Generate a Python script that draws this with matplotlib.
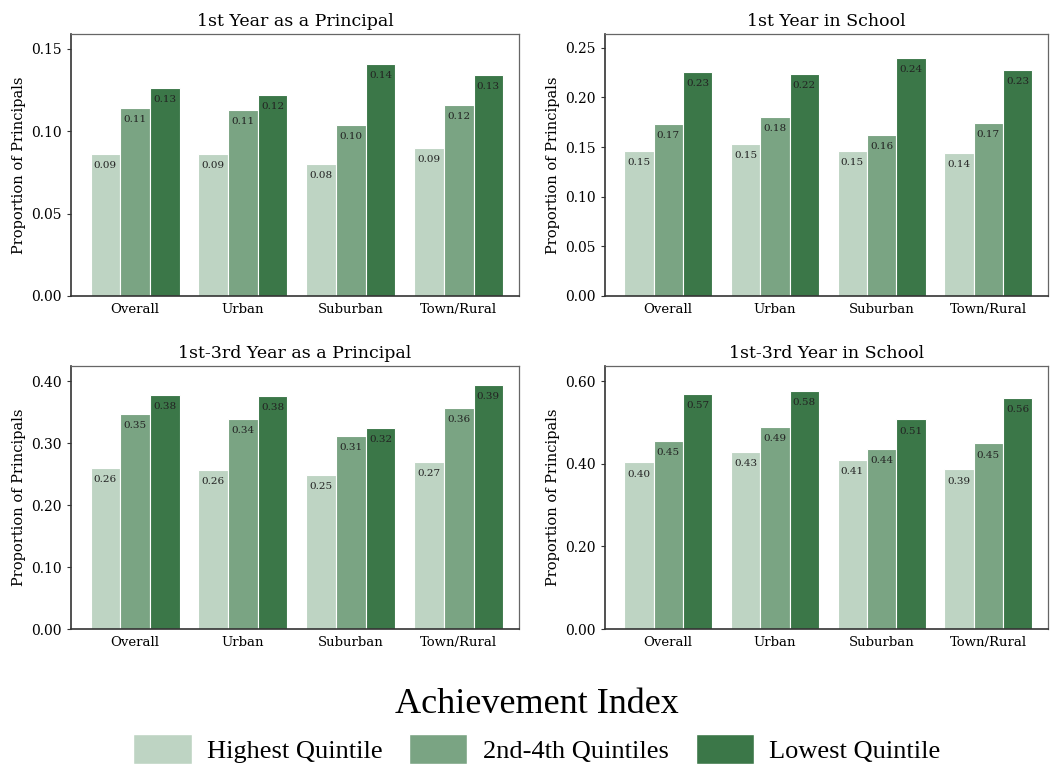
import numpy as np
import matplotlib.pyplot as plt
from matplotlib.patches import Patch
from matplotlib.ticker import FormatStrFormatter

# groups and series
groups = ['Overall', 'Urban', 'Suburban', 'Town/Rural']
quintiles = ['Highest Quintile', '2nd-4th Quintiles', 'Lowest Quintile']
colors = ['#bed4c3', '#7aa483', '#3b7748']

titles = ['1st Year as a Principal', '1st Year in School',
          '1st-3rd Year as a Principal', '1st-3rd Year in School']

# proportion of principals, one row per quintile
first_yr_principal = [[0.086, 0.086, 0.080, 0.090],
                      [0.114, 0.113, 0.104, 0.116],
                      [0.126, 0.122, 0.141, 0.134]]
first_yr_school = [[0.146, 0.153, 0.146, 0.144],
                   [0.173, 0.180, 0.162, 0.174],
                   [0.226, 0.224, 0.240, 0.228]]
three_yr_principal = [[0.260, 0.256, 0.248, 0.269],
                      [0.347, 0.339, 0.312, 0.356],
                      [0.378, 0.376, 0.324, 0.394]]
three_yr_school = [[0.403, 0.428, 0.408, 0.386],
                   [0.454, 0.488, 0.436, 0.449],
                   [0.569, 0.576, 0.507, 0.559]]

panels = [first_yr_principal, first_yr_school, three_yr_principal, three_yr_school]
ylims = [0.159, 0.264, 0.424, 0.636]
yticks = [[0, 0.05, 0.10, 0.15], [0, 0.05, 0.10, 0.15, 0.20, 0.25],
          [0, 0.10, 0.20, 0.30, 0.40], [0, 0.20, 0.40, 0.60]]

plt.rcParams['font.family'] = 'DejaVu Serif'

fig = plt.figure(figsize=(10.51, 7.64), dpi=100)

# axes boxes [left, bottom, width, height] in figure fraction
boxes = [[0.0676, 0.6126, 0.4263, 0.343],
         [0.5756, 0.6126, 0.4215, 0.343],
         [0.0676, 0.1767, 0.4263, 0.344],
         [0.5756, 0.1767, 0.4215, 0.344]]

x = np.arange(len(groups))
w = 0.275
for k in range(4):
    ax = fig.add_axes(boxes[k])
    vals = panels[k]
    top = ylims[k]
    for i in range(3):
        xs = x + (i - 1) * w
        ax.bar(xs, vals[i], width=w, color=colors[i], edgecolor='white', linewidth=0.8)
        for xi, v in zip(xs, vals[i]):
            ax.text(xi, v - top * 0.027, f'{v:.2f}', ha='center', va='top',
                    fontsize=7.5, color='#222222')
    ax.set_xlim(-0.593, 3.56)
    ax.set_ylim(0, top)
    ax.set_yticks(yticks[k])
    ax.yaxis.set_major_formatter(FormatStrFormatter('%.2f'))
    ax.set_xticks(x)
    ax.set_xticklabels(groups, fontsize=9.5)
    ax.tick_params(axis='x', length=0, pad=5)
    ax.tick_params(axis='y', labelsize=10, length=3, color='#333333')
    ax.set_ylabel('Proportion of Principals', fontsize=10.5)
    ax.set_title(titles[k], fontsize=12.5, pad=6)
    for side in ['top', 'right']:
        ax.spines[side].set_color('#666666')
        ax.spines[side].set_linewidth(0.9)
    for side in ['left', 'bottom']:
        ax.spines[side].set_color('#333333')
        ax.spines[side].set_linewidth(1.2)

handles = [Patch(facecolor=c, edgecolor='white') for c in colors]
leg = fig.legend(handles, quintiles, loc='center', bbox_to_anchor=(0.511, 0.05),
                 ncol=3, frameon=False, title='Achievement Index',
                 handlelength=2.2, handleheight=1.35,
                 columnspacing=1.0, handletextpad=0.6,
                 prop={'family': 'Liberation Serif', 'size': 19})
leg.get_title().set_family('Liberation Serif')
leg.get_title().set_fontsize(26)

fig.savefig('out.png', dpi=100)
